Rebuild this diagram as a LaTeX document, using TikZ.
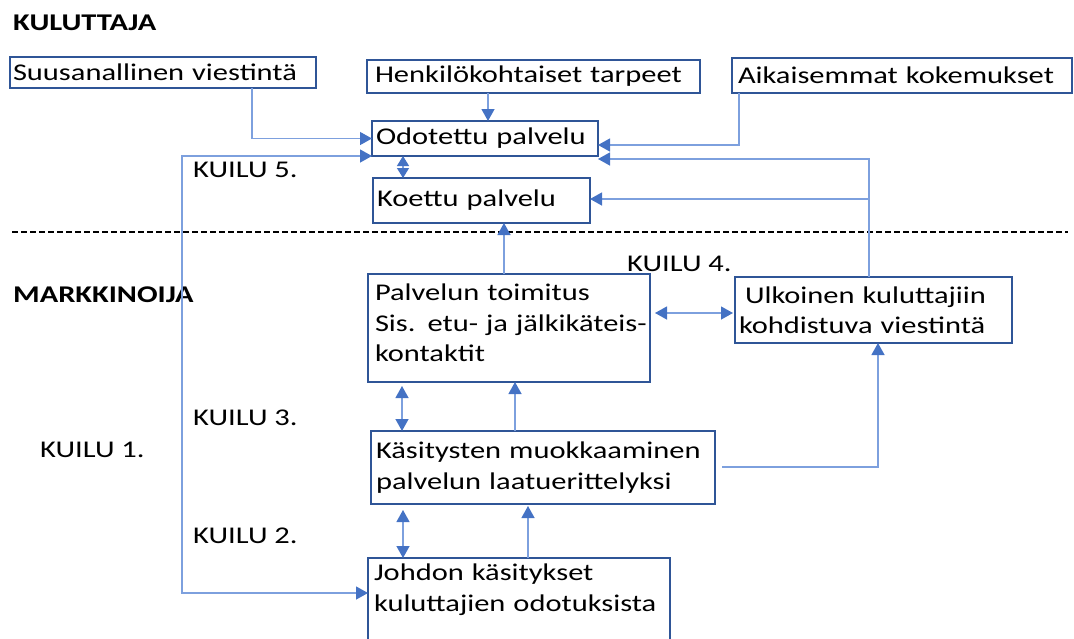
\documentclass[tikz,border=0pt]{standalone}
\usepackage{fontspec}
\setmainfont{Carlito}[FakeStretch=1.27]
\usetikzlibrary{arrows.meta}

\definecolor{boxblue}{RGB}{47,85,151}
\definecolor{linkblue}{RGB}{125,160,222}
\definecolor{tipblue}{RGB}{68,114,196}

\begin{document}
\begin{tikzpicture}[x=1pt,y=-1pt,
  every node/.style={font=\fontsize{24}{30.5}\selectfont},
  >={Triangle[length=12pt,width=13pt,color=tipblue]},
  box/.style={draw=boxblue, line width=2.2pt, anchor=north west, align=left,
    outer sep=0pt, inner ysep=0pt},
  tag/.style={anchor=base west, inner sep=0pt},
  heading/.style={tag, font=\fontsize{24}{30.5}\selectfont\bfseries},
  link/.style={draw=linkblue, line width=1.3pt},
  shortlink/.style={link, >={Triangle[length=10pt,width=12pt,color=tipblue]}},
  divider/.style={draw=black, line width=1.2pt, dash pattern=on 6pt off 3pt}
]
\clip (0,0) rectangle (1074,638);

% consumer side
\node[heading] (kul) at (13,30.5) {KULUTTAJA};
\node[box, inner xsep=3pt, text width=300pt, minimum height=31pt] (suu) at (10,57)
  {\mbox{Suusanallinen viestintä}};
\node[box, inner xsep=8pt, text width=317pt, minimum height=33pt] (hen) at (367,60)
  {\mbox{Henkilökohtaiset tarpeet}};
\node[box, inner xsep=6pt, text width=328pt, minimum height=35pt] (aik) at (732,58)
  {\mbox{Aikaisemmat kokemukset}};
\node[box, inner xsep=4pt, text width=218pt, minimum height=35pt] (odo) at (372,121)
  {\mbox{Odotettu palvelu}};
\node[box, inner xsep=4pt, text width=209pt, minimum height=45pt] (koe) at (373,178)
  {\mbox{Koettu palvelu}};

% divider between consumer and marketer
\draw[divider] (12,232) -- (1068,232);

% marketer side
\node[heading] (mar) at (13,302) {MARKKINOIJA};
\node[box, inner xsep=7pt, text width=268pt, minimum height=108pt] (pal) at (368,274)
  {\mbox{Palvelun toimitus}\\\mbox{Sis. etu- ja jälkikäteis-}\\\mbox{kontaktit\rule[-10pt]{0pt}{10pt}}};
\node[box, inner xsep=4pt, text width=269pt, minimum height=66pt] (ulk) at (735,277)
  {\mbox{\hspace{6pt}Ulkoinen kuluttajiin}\\\mbox{kohdistuva viestintä}};
\node[box, inner xsep=5pt, text width=334pt, minimum height=73pt] (kas) at (371,431)
  {\mbox{Käsitysten muokkaaminen}\\\mbox{palvelun laatuerittelyksi}};
\node[box, inner xsep=6pt, inner ysep=6pt, text width=290pt] (joh) at (368,558)
  {\mbox{Johdon käsitykset}\\\mbox{kuluttajien odotuksista}\\\strut};

% gap labels
\node[tag] (k5) at (193,177) {KUILU 5.};
\node[tag] (k4) at (627,271) {KUILU 4.};
\node[tag] (k3) at (193,425) {KUILU 3.};
\node[tag] (k1) at (40,457) {KUILU 1.};
\node[tag] (k2) at (193,543) {KUILU 2.};

% routing points
\coordinate (jk) at (869,199);
\coordinate (lt) at (182,156);
\coordinate (lb) at (182,593);

% connectors
\draw[link,->] (suu.south -| 252,0) |- (odo.west);
\draw[link,->] (hen.south -| 488,0) -- (odo.north -| 488,0);
\draw[link,->] (aik.south -| 739,0) |- (odo.east |- 0,145);
\draw[link,->] (ulk.north -| 869,0) |- (odo.east |- 0,159);
\draw[link,->] (jk) -- (koe.east |- jk);
\draw[shortlink,<->] (odo.south -| 403,0) -- (koe.north -| 403,0);
\draw[link,->] (pal.north -| 504,0) -- (koe.south -| 504,0);
\draw[link,<->,shorten <=5pt,shorten >=2pt] (pal.east |- 0,313) -- (ulk.west |- 0,313);
\draw[link,<->,shorten <=4pt] (pal.south -| 402,0) -- (kas.north -| 402,0);
\draw[link,->] (kas.north -| 515,0) -- (pal.south -| 515,0);
\draw[link,->,shorten <=7pt] (kas.east |- 0,467) -| (ulk.south -| 878,0);
\draw[link,<->,shorten <=6pt] (kas.south -| 403,0) -- (joh.north -| 403,0);
\draw[link,->,shorten >=2pt] (joh.north -| 528,0) -- (kas.south -| 528,0);
\draw[link,<->] (odo.south west) -- (lt) -- (lb) -- (joh.west |- lb);
\end{tikzpicture}
\end{document}
